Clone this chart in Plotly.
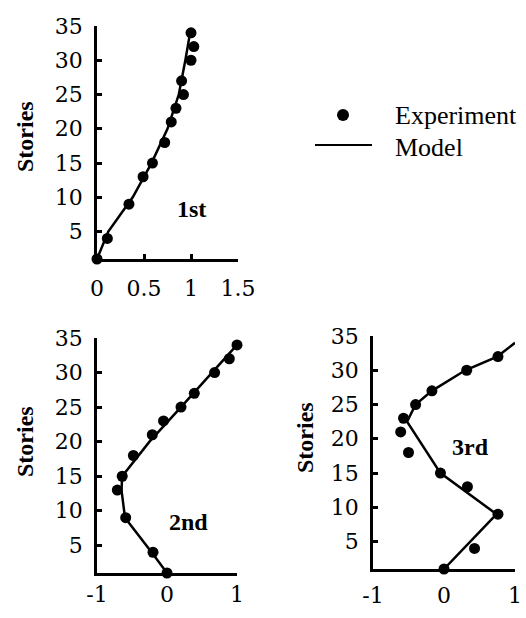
import plotly.graph_objects as go

# ---- data ----
exp_stories = [1, 4, 9, 13, 15, 18, 21, 23, 25, 27, 30, 32, 34]
exp_1st = [0, 0.11, 0.34, 0.49, 0.59, 0.72, 0.79, 0.84, 0.92, 0.90, 1.0, 1.03, 1.0]
exp_2nd = [0, -0.2, -0.59, -0.71, -0.64, -0.48, -0.21, -0.05, 0.2, 0.39, 0.68, 0.89, 1.0]
exp_3rd = [0, 0.43, 0.76, 0.33, -0.05, -0.5, -0.61, -0.57, -0.4, -0.17, 0.32, 0.76, 1.02]

model_1st_stories = [1, 5, 10, 15, 20, 25, 30, 34]
model_1st = [0, 0.12, 0.38, 0.58, 0.75, 0.87, 0.94, 0.99]
model_2nd_stories = [1, 4, 9, 13, 15, 20, 25, 30, 34]
model_2nd = [0, -0.22, -0.6, -0.65, -0.64, -0.25, 0.2, 0.64, 1.0]
model_3rd_stories = [1, 9, 15, 22.5, 25, 27, 30, 32, 34]
model_3rd = [0, 0.74, -0.05, -0.52, -0.4, -0.17, 0.3, 0.75, 1.0]

y_ticks = [5, 10, 15, 20, 25, 30, 35]
x1_ticks = [0, 0.5, 1, 1.5]
x1_labels = ["0", "0.5", "1", "1.5"]
x23_ticks = [-1, 0, 1]
x23_labels = ["-1", "0", "1"]
panel_names = ["1st", "2nd", "3rd"]

W, H = 526, 618
def px(x):
    return x / W
def py(y):
    return 1 - y / H

fig = go.Figure()
panels = [
    ("x", "y", exp_1st, model_1st_stories, model_1st),
    ("x2", "y2", exp_2nd, model_2nd_stories, model_2nd),
    ("x3", "y3", exp_3rd, model_3rd_stories, model_3rd),
]
for xa, ya, ex, ms, mv in panels:
    fig.add_trace(go.Scatter(x=mv, y=ms, xaxis=xa, yaxis=ya, mode="lines",
                             line=dict(color="black", width=2.5), cliponaxis=False,
                             showlegend=False))
    fig.add_trace(go.Scatter(x=ex, y=exp_stories, xaxis=xa, yaxis=ya, mode="markers",
                             marker=dict(color="black", size=11), cliponaxis=False,
                             showlegend=False))

tickfont = dict(family="DejaVu Serif, serif", size=22, color="black")
common = dict(showline=True, linecolor="black", linewidth=2.8, ticks="inside",
              ticklen=5, tickwidth=2.5, tickcolor="black", showgrid=False,
              zeroline=False, tickfont=tickfont, fixedrange=True, automargin=False)

fig.update_layout(
    width=W, height=H, margin=dict(l=0, r=0, t=0, b=0, autoexpand=False),
    paper_bgcolor="white", plot_bgcolor="white", showlegend=False,
    xaxis=dict(domain=[px(97), px(238)], range=[0, 1.5], anchor="y",
               tickvals=x1_ticks, ticktext=x1_labels, ticklabelstandoff=8, **common),
    yaxis=dict(domain=[py(259), py(26)], range=[1, 35], anchor="x",
               tickvals=y_ticks, ticklabelstandoff=7, **common),
    xaxis2=dict(domain=[px(97), px(237)], range=[-1, 1], anchor="y2",
                tickvals=x23_ticks, ticktext=x23_labels, ticklabelstandoff=0, **common),
    yaxis2=dict(domain=[py(573), py(338)], range=[1, 35], anchor="x2",
                tickvals=y_ticks, ticklabelstandoff=7, **common),
    xaxis3=dict(domain=[px(373), px(515)], range=[-1, 1], anchor="y3",
                tickvals=x23_ticks, ticktext=x23_labels, ticklabelstandoff=5, **common),
    yaxis3=dict(domain=[py(569), py(336)], range=[1, 35], anchor="x3",
                tickvals=y_ticks, ticklabelstandoff=7, **common),
)

ann_font_bold = dict(family="Liberation Serif", size=24, color="black", weight="bold")
annotations = []
for (cx, cy) in [(25, 137), (25, 442), (305, 438)]:
    annotations.append(dict(text="Stories", x=px(cx), y=py(cy), xref="paper", yref="paper",
                            showarrow=False, textangle=-90, font=ann_font_bold,
                            xanchor="center", yanchor="middle"))
for name, (cx, cy) in zip(panel_names, [(191, 209), (188, 522), (470, 447)]):
    annotations.append(dict(text=name, x=px(cx), y=py(cy), xref="paper", yref="paper",
                            showarrow=False, font=ann_font_bold,
                            xanchor="center", yanchor="middle"))
leg_font = dict(family="Liberation Serif", size=26, color="black")
annotations.append(dict(text="Experiment", x=px(393), y=py(115), xref="paper", yref="paper",
                        showarrow=False, font=leg_font, xanchor="left", yanchor="middle"))
annotations.append(dict(text="Model", x=px(393), y=py(147), xref="paper", yref="paper",
                        showarrow=False, font=leg_font, xanchor="left", yanchor="middle"))
fig.update_layout(annotations=annotations)

fig.add_shape(type="circle", xref="paper", yref="paper",
              x0=px(337), x1=px(349), y0=py(121), y1=py(109),
              fillcolor="black", line=dict(color="black", width=0))
fig.add_shape(type="line", xref="paper", yref="paper",
              x0=px(315), x1=px(372), y0=py(145), y1=py(145),
              line=dict(color="black", width=2))

fig.write_html("out.html", config={"displayModeBar": False},
               post_script="document.body.style.margin='0';document.body.style.overflow='hidden';")
